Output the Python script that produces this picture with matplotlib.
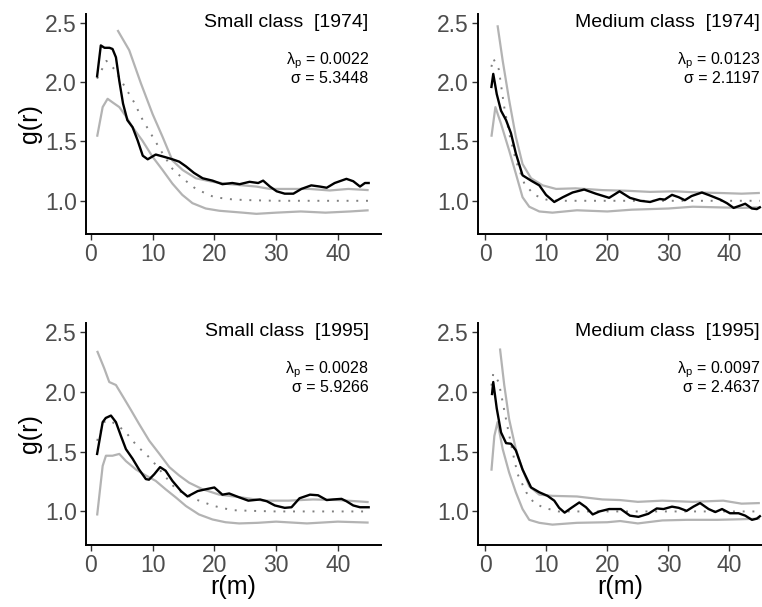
import matplotlib
matplotlib.use('Agg')
from matplotlib import pyplot as plt

plt.rcParams['font.family'] = ['Liberation Sans', 'DejaVu Sans']
plt.rcParams['mathtext.default'] = 'regular'

# small class 1974
r_obs_s74 = [1.0, 1.6, 2.2, 3.0, 3.5, 4.05, 4.6, 5.2, 5.9, 6.75, 7.56, 8.4, 9.2, 10.5, 11.9, 13.2, 14.3, 15.4,
             16.7, 18.1, 19.7, 21.3, 22.9, 24.1, 25.7, 27.1, 27.9, 29.0, 30.1, 31.4, 32.8, 34.1, 35.7, 37.1,
             38.2, 39.5, 41.4, 42.5, 43.6, 44.4, 45.0]
g_obs_s74 = [2.05, 2.31, 2.29, 2.29, 2.28, 2.21, 2.01, 1.82, 1.68, 1.62, 1.51, 1.38, 1.35, 1.39, 1.37, 1.35,
             1.33, 1.29, 1.235, 1.19, 1.17, 1.14, 1.15, 1.14, 1.16, 1.15, 1.17, 1.12, 1.08, 1.06, 1.06, 1.10,
             1.13, 1.12, 1.11, 1.15, 1.185, 1.165, 1.12, 1.15, 1.15]
r_hi_s74 = [4.3, 6.2, 8.1, 10.0, 11.6, 13.2, 14.85, 17.0, 19.7, 22.5, 26.8, 29.0, 31.4, 33.3, 35.4, 38.7, 41.7, 45.0]
g_hi_s74 = [2.44, 2.27, 1.99, 1.73, 1.54, 1.34, 1.26, 1.19, 1.16, 1.14, 1.12, 1.10, 1.10, 1.10, 1.10, 1.087,
            1.10, 1.09]
r_lo_s74 = [1.0, 1.9, 2.7, 3.5, 4.6, 5.7, 6.75, 8.3, 10.0, 11.6, 13.2, 14.8, 16.45, 18.6, 20.8, 24.6, 26.8,
            30.0, 34.0, 38.0, 42.0, 45.0]
g_lo_s74 = [1.54, 1.79, 1.86, 1.83, 1.79, 1.71, 1.62, 1.51, 1.37, 1.26, 1.145, 1.05, 0.98, 0.935, 0.916, 0.90,
            0.89, 0.90, 0.91, 0.90, 0.91, 0.92]
r_th_s74 = [1.0, 2.5, 3.8, 5.4, 7.0, 8.4, 10.0, 11.6, 13.2, 14.85, 17.0, 20.0, 23.2, 26.0, 30.0, 35.0, 40.0, 45.0]
g_th_s74 = [2.03, 2.18, 2.11, 1.97, 1.83, 1.68, 1.54, 1.40, 1.27, 1.19, 1.10, 1.03, 1.01, 1.005, 1.0, 1.0, 1.0, 1.0]

# medium class 1974
r_obs_m74 = [1.0, 1.3, 1.87, 2.57, 3.4, 4.2, 5.0, 6.1, 7.5, 8.85, 9.95, 11.3, 12.7, 14.3, 16.2, 18.1, 20.3,
             22.0, 23.7, 25.4, 27.0, 28.6, 29.4, 30.6, 31.7, 32.7, 33.8, 35.5, 36.8, 38.5, 39.6, 40.7, 41.8,
             42.6, 43.7, 44.5, 45.0]
g_obs_m74 = [1.96, 2.07, 1.90, 1.76, 1.68, 1.57, 1.40, 1.215, 1.17, 1.13, 1.05, 0.99, 1.03, 1.07, 1.095, 1.06,
             1.025, 1.08, 1.025, 1.0, 0.99, 1.015, 1.01, 1.05, 1.03, 1.005, 1.04, 1.07, 1.045, 1.01, 0.98,
             0.94, 0.96, 0.975, 0.935, 0.93, 0.945]
r_hi_m74 = [2.0, 2.85, 3.9, 5.0, 6.1, 7.5, 9.4, 11.6, 14.8, 19.2, 23.0, 27.0, 31.0, 35.0, 39.0, 42.0, 45.0]
g_hi_m74 = [2.48, 2.18, 1.85, 1.54, 1.31, 1.19, 1.13, 1.10, 1.105, 1.09, 1.085, 1.075, 1.08, 1.07, 1.065,
            1.06, 1.066]
r_lo_m74 = [1.0, 1.65, 2.57, 3.9, 5.0, 6.1, 7.2, 8.85, 11.0, 15.0, 20.0, 24.0, 27.0, 30.0, 34.0, 38.0, 42.0, 45.0]
g_lo_m74 = [1.54, 1.79, 1.65, 1.425, 1.23, 1.03, 0.95, 0.91, 0.90, 0.92, 0.91, 0.925, 0.93, 0.935, 0.95,
            0.945, 0.94, 0.945]
r_th_m74 = [1.0, 1.3, 2.2, 3.1, 3.9, 5.0, 6.4, 8.0, 10.0, 12.0, 20.0, 30.0, 45.0]
g_th_m74 = [2.13, 2.2, 2.11, 1.79, 1.57, 1.34, 1.145, 1.05, 1.01, 1.0, 1.0, 1.0, 1.0]

# small class 1995
r_obs_s95 = [1.0, 1.9, 2.4, 3.24, 4.05, 4.86, 5.67, 6.75, 7.8, 8.9, 9.4, 10.25, 11.2, 12.1, 13.2, 14.6, 15.65,
             17.3, 18.6, 20.0, 21.3, 22.4, 23.9, 25.5, 27.4, 28.5, 29.8, 31.4, 32.5, 33.8, 35.5, 36.8, 38.2,
             39.2, 40.6, 41.4, 42.5, 43.6, 45.0]
g_obs_s95 = [1.48, 1.745, 1.78, 1.80, 1.745, 1.63, 1.52, 1.44, 1.35, 1.27, 1.265, 1.31, 1.37, 1.34, 1.255,
             1.17, 1.125, 1.17, 1.185, 1.20, 1.14, 1.15, 1.12, 1.09, 1.10, 1.085, 1.05, 1.03, 1.035, 1.11,
             1.14, 1.135, 1.095, 1.10, 1.105, 1.085, 1.05, 1.035, 1.035]
r_hi_s95 = [1.0, 2.15, 2.97, 4.05, 5.4, 6.5, 7.8, 9.45, 11.1, 12.7, 14.3, 15.9, 18.1, 20.8, 24.0, 28.0, 32.0,
            36.0, 40.0, 43.0, 45.0]
g_hi_s95 = [2.34, 2.195, 2.08, 2.055, 1.94, 1.845, 1.73, 1.59, 1.48, 1.37, 1.30, 1.24, 1.185, 1.14, 1.12,
            1.09, 1.09, 1.10, 1.095, 1.085, 1.078]
r_lo_s95 = [1.0, 1.9, 2.43, 3.5, 4.6, 5.67, 7.3, 8.9, 10.5, 12.1, 13.8, 15.4, 17.5, 19.7, 21.8, 24.0, 27.0,
            30.0, 35.0, 40.0, 45.0]
g_lo_s95 = [0.966, 1.38, 1.465, 1.465, 1.48, 1.42, 1.35, 1.30, 1.255, 1.185, 1.115, 1.045, 0.975, 0.933, 0.91,
            0.90, 0.905, 0.915, 0.90, 0.915, 0.907]
r_th_s95 = [1.0, 2.1, 2.97, 4.3, 5.67, 6.75, 7.8, 8.9, 10.0, 11.9, 13.8, 15.65, 17.0, 18.6, 20.0, 21.6, 23.2,
            26.0, 30.0, 45.0]
g_th_s95 = [1.59, 1.745, 1.76, 1.72, 1.66, 1.59, 1.53, 1.48, 1.42, 1.30, 1.185, 1.135, 1.10, 1.07, 1.045,
            1.025, 1.01, 1.005, 1.0, 1.0]

# medium class 1995
r_obs_m95 = [1.1, 1.3, 1.87, 2.57, 3.4, 4.2, 5.0, 6.1, 7.5, 8.85, 10.2, 11.3, 12.1, 13.0, 14.1, 15.4, 16.5,
             17.6, 18.7, 20.3, 22.2, 23.7, 25.1, 26.7, 28.1, 29.2, 30.6, 31.7, 33.0, 34.1, 35.2, 36.6, 37.7,
             38.8, 40.1, 41.5, 42.6, 43.7, 44.5, 45.0]
g_obs_m95 = [1.98, 2.08, 1.86, 1.66, 1.57, 1.565, 1.51, 1.35, 1.20, 1.16, 1.13, 1.09, 1.03, 0.99, 1.03, 1.075,
             1.035, 0.975, 1.0, 1.02, 1.02, 0.965, 0.955, 0.98, 1.025, 1.02, 1.04, 1.03, 1.005, 1.04, 1.07,
             1.02, 0.995, 1.02, 0.985, 0.985, 0.965, 0.93, 0.94, 0.96]
r_hi_m95 = [2.4, 3.1, 3.9, 5.0, 6.1, 7.2, 8.85, 11.0, 15.0, 19.2, 22.1, 25.0, 29.0, 34.0, 39.0, 42.0, 45.0]
g_hi_m95 = [2.36, 2.055, 1.77, 1.52, 1.35, 1.21, 1.14, 1.13, 1.125, 1.10, 1.095, 1.08, 1.09, 1.08, 1.09,
            1.065, 1.07]
r_lo_m95 = [1.0, 1.48, 2.0, 2.85, 3.9, 5.0, 6.1, 7.2, 8.85, 11.0, 15.0, 20.0, 22.1, 25.0, 29.0, 33.0, 38.0,
            42.0, 45.0]
g_lo_m95 = [1.34, 1.63, 1.745, 1.52, 1.325, 1.16, 1.02, 0.93, 0.905, 0.89, 0.905, 0.91, 0.92, 0.90, 0.925,
            0.93, 0.93, 0.935, 0.94]
r_th_m95 = [1.0, 1.3, 2.2, 2.85, 3.7, 4.5, 5.3, 6.7, 8.0, 9.65, 12.0, 20.0, 45.0]
g_th_m95 = [2.05, 2.15, 2.08, 1.91, 1.69, 1.49, 1.31, 1.16, 1.07, 1.03, 1.0, 1.0, 1.0]

titles = ['Small class  [1974]', 'Medium class  [1974]', 'Small class  [1995]', 'Medium class  [1995]']
lambdas = ['0.0022', '0.0123', '0.0028', '0.0097']
sigmas = ['5.3448', '2.1197', '5.9266', '2.4637']

panels = [
    (r_obs_s74, g_obs_s74, r_hi_s74, g_hi_s74, r_lo_s74, g_lo_s74, r_th_s74, g_th_s74),
    (r_obs_m74, g_obs_m74, r_hi_m74, g_hi_m74, r_lo_m74, g_lo_m74, r_th_m74, g_th_m74),
    (r_obs_s95, g_obs_s95, r_hi_s95, g_hi_s95, r_lo_s95, g_lo_s95, r_th_s95, g_th_s95),
    (r_obs_m95, g_obs_m95, r_hi_m95, g_hi_m95, r_lo_m95, g_lo_m95, r_th_m95, g_th_m95),
]

W, H = 762, 607
fig = plt.figure(figsize=(W / 100, H / 100), dpi=100)

# axes boxes in pixels: left, top, right, bottom
boxes = [(86, 14, 381, 234), (477.7, 14, 762, 234), (86, 322.7, 381, 545), (477.7, 322.7, 762, 545)]
xlims = [(-0.8, 47.0), (-1.25, 45.35), (-0.8, 47.0), (-1.25, 45.35)]

for k in range(4):
    l, t, rr, b = boxes[k]
    ax = fig.add_axes([l / W, 1 - b / H, (rr - l) / W, (b - t) / H])
    ro, go, rh, gh, rl, gl, rt, gt = panels[k]
    ax.plot(rh, gh, color='#B3B3B3', lw=1.6, solid_capstyle='butt')
    ax.plot(rl, gl, color='#B3B3B3', lw=1.6, solid_capstyle='butt')
    ax.plot(rt, gt, color='#7F7F7F', lw=1.4, linestyle=(0, (1, 4)), dash_capstyle='butt')
    ax.plot(ro, go, color='black', lw=1.7)
    ax.set_xlim(*xlims[k])
    ax.set_ylim(0.72, 2.575)
    ax.set_xticks([0, 10, 20, 30, 40])
    ax.set_yticks([1.0, 1.5, 2.0, 2.5])
    ax.set_yticklabels(['1.0', '1.5', '2.0', '2.5'])
    for s in ['top', 'right']:
        ax.spines[s].set_visible(False)
    for s in ['left', 'bottom']:
        ax.spines[s].set_linewidth(1.4)
        ax.spines[s].set_color('black')
    ax.tick_params(length=4, width=1.0, color='#333333', labelcolor='#4D4D4D', labelsize=16.5, pad=2.5)
    ax.text(45, 2.5, titles[k], ha='right', va='center', fontsize=14, color='black')
    ax.text(45, 2.18, r'$\lambda_p$ = ' + lambdas[k], ha='right', va='center', fontsize=11.5)
    ax.text(45, 2.035, 'σ = ' + sigmas[k], ha='right', va='center', fontsize=11.5)
    if k % 2 == 0:
        ax.set_ylabel('g(r)', fontsize=18)
        ax.yaxis.set_label_coords(-0.15, 0.5)
    if k >= 2:
        ax.set_xlabel('r(m)', fontsize=18)
        ax.xaxis.set_label_coords(0.5, -0.135)

plt.savefig('out.png', dpi=100)
